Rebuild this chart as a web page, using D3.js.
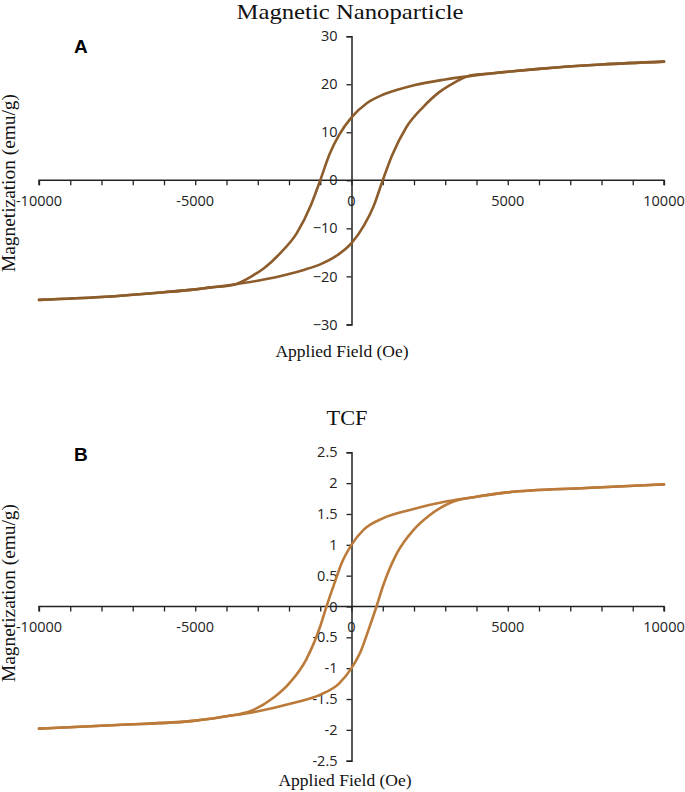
<!DOCTYPE html>
<html><head><meta charset="utf-8">
<script src="https://cdn.jsdelivr.net/npm/d3@7"></script>
<style>body{margin:0;background:#fff}svg{display:block}</style>
</head><body><svg id="c" width="685" height="792"></svg>
<script>
// ---- Data ----
const titles = ["Magnetic Nanoparticle", "TCF"];
const panelLabels = ["A", "B"];
const xTitle = "Applied Field (Oe)";
const yTitle = "Magnetization (emu/g)";
const xTickLabels = [-10000, -5000, 0, 5000, 10000];
const yTicksA = [30, 20, 10, 0, -10, -20, -30];
const yTicksB = [2.5, 2, 1.5, 1, 0.5, 0, -0.5, -1, -1.5, -2, -2.5];

// Panel A: branch with field decreasing (upper) and increasing (lower)
const fieldA_up = [-10000, -8000, -6000, -5000, -4500, -3800, -3150, -2800, -2300, -1750, -1300, -1000, -700, -400, 0, 500, 1000, 1500, 2000, 3000, 4000, 5000, 6000, 8000, 10000];
const magA_up   = [-24.9, -24.3, -23.3, -22.7, -22.3, -21.8, -19.8, -18.3, -15.3, -11.0, -5.2, 0.0, 5.5, 9.4, 13.1, 16.1, 17.8, 18.9, 19.8, 21.0, 21.9, 22.6, 23.2, 24.1, 24.7];
const fieldA_dn = [-10000, -8000, -6000, -5000, -4000, -3000, -2000, -1500, -1000, -500, 0, 400, 700, 1000, 1300, 1750, 2300, 2800, 3150, 3800, 4500, 5000, 6000, 8000, 10000];
const magA_dn   = [-24.9, -24.3, -23.3, -22.7, -21.9, -20.9, -19.5, -18.6, -17.5, -15.8, -13.1, -9.4, -5.5, 0.0, 5.2, 11.0, 15.3, 18.3, 19.8, 21.8, 22.3, 22.6, 23.2, 24.1, 24.7];

// Panel B
const fieldB_up = [-10000, -7500, -5000, -4000, -3200, -2500, -2000, -1450, -1000, -800, -550, -300, 0, 400, 1000, 1900, 3100, 4000, 5000, 7500, 10000];
const magB_up   = [-1.98, -1.92, -1.85, -1.78, -1.69, -1.48, -1.25, -0.86, -0.32, 0.0, 0.37, 0.72, 1.0, 1.25, 1.43, 1.57, 1.71, 1.78, 1.85, 1.92, 1.98];
const fieldB_dn = [-10000, -7500, -5000, -4000, -3100, -1900, -1000, -400, 0, 300, 550, 800, 1000, 1450, 2000, 2500, 3200, 4000, 5000, 7500, 10000];
const magB_dn   = [-1.98, -1.92, -1.85, -1.78, -1.71, -1.57, -1.43, -1.25, -1.0, -0.72, -0.37, 0.0, 0.32, 0.86, 1.25, 1.48, 1.69, 1.78, 1.85, 1.92, 1.98];

const svg = d3.select("#c");
const tickFont = "'Open Sans', 'Liberation Sans', sans-serif";
const serif = "'Liberation Serif', 'Times New Roman', serif";

const panels = [
  {title: titles[0], label: panelLabels[0], yTicks: yTicksA, yDom: [-30, 30], yRange: [324.4, 36.2],
   up: fieldA_up.map((f,i)=>[f, magA_up[i]]), dn: fieldA_dn.map((f,i)=>[f, magA_dn[i]]),
   color: "#8d5c2b", titleY: 19, titleX: 350, titleLen: 227, labelY: 52.5,
   xTitleX: 342, xTitleY: 357, yTitleStart: 272, fmt: d => d3.format("d")(d)},
  {title: titles[1], label: panelLabels[1], yTicks: yTicksB, yDom: [-2.5, 2.5], yRange: [760.7, 452.3],
   up: fieldB_up.map((f,i)=>[f, magB_up[i]]), dn: fieldB_dn.map((f,i)=>[f, magB_dn[i]]),
   color: "#bb7a39", titleY: 425, titleX: 347, titleLen: 41, labelY: 460.7,
   xTitleX: 345, xTitleY: 786, yTitleStart: 682, fmt: d => String(d)}
];

const x = d3.scaleLinear().domain([-10000, 10000]).range([39, 664]);

panels.forEach(p => {
  const y = d3.scaleLinear().domain(p.yDom).range(p.yRange);
  const g = svg.append("g");

  // x axis at y=0
  const xAxis = d3.axisBottom(x).tickValues(d3.range(-10000, 10001, 1000))
    .tickSize(5).tickFormat("");
  const gx = g.append("g").attr("transform", `translate(0,${y(0)})`).call(xAxis);
  gx.select(".domain").attr("stroke", "#222").attr("stroke-width", 1.5).attr("d", `M${x(-10000)},5V0H${x(10000)}V5`);
  gx.selectAll(".tick line").attr("stroke", "#222").attr("stroke-width", 1.3);
  g.append("g").selectAll("text").data(xTickLabels).join("text")
    .attr("x", d => x(d)).attr("y", y(0) + 25.5)
    .attr("text-anchor", "middle").attr("font-family", tickFont).attr("font-size", 14.5)
    .attr("fill", "#222").text(d => d);

  // y axis at x=0
  const yAxis = d3.axisLeft(y).tickValues(p.yTicks).tickSize(5).tickPadding(9).tickFormat(p.fmt);
  const gy = g.append("g").attr("transform", `translate(${x(0)},0)`).call(yAxis);
  gy.select(".domain").attr("stroke", "#222").attr("stroke-width", 1.5);
  gy.selectAll(".tick line").attr("stroke", "#222").attr("stroke-width", 1.3);
  gy.selectAll(".tick text").attr("font-family", tickFont).attr("font-size", 14.5).attr("fill", "#222");

  // curves
  const line = d3.line().x(d => x(d[0])).y(d => y(d[1])).curve(d3.curveMonotoneX);
  [p.up, p.dn].forEach(br => {
    g.append("path").datum(br).attr("d", line).attr("fill", "none")
      .attr("stroke", p.color).attr("stroke-width", 2.6).attr("stroke-linecap", "round");
  });

  // titles
  g.append("text").attr("x", p.titleX).attr("y", p.titleY).attr("text-anchor", "middle")
    .attr("font-family", serif).attr("font-size", 22).attr("fill", "#111")
    .attr("textLength", p.titleLen).attr("lengthAdjust", "spacingAndGlyphs").text(p.title);
  g.append("text").attr("x", 74).attr("y", p.labelY)
    .attr("font-family", "'Liberation Sans', Arial, sans-serif").attr("font-weight", "bold")
    .attr("font-size", 19).attr("fill", "#000").text(p.label);
  g.append("text").attr("x", p.xTitleX).attr("y", p.xTitleY).attr("text-anchor", "middle")
    .attr("font-family", serif).attr("font-size", 17.5).attr("fill", "#111").text(xTitle);
  g.append("text").attr("transform", `translate(15,${p.yTitleStart}) rotate(-90)`)
    .attr("text-anchor", "start").attr("font-family", serif).attr("font-size", 18.5)
    .attr("textLength", 178).attr("lengthAdjust", "spacingAndGlyphs")
    .attr("fill", "#111").text(yTitle);
});
</script></body></html>
